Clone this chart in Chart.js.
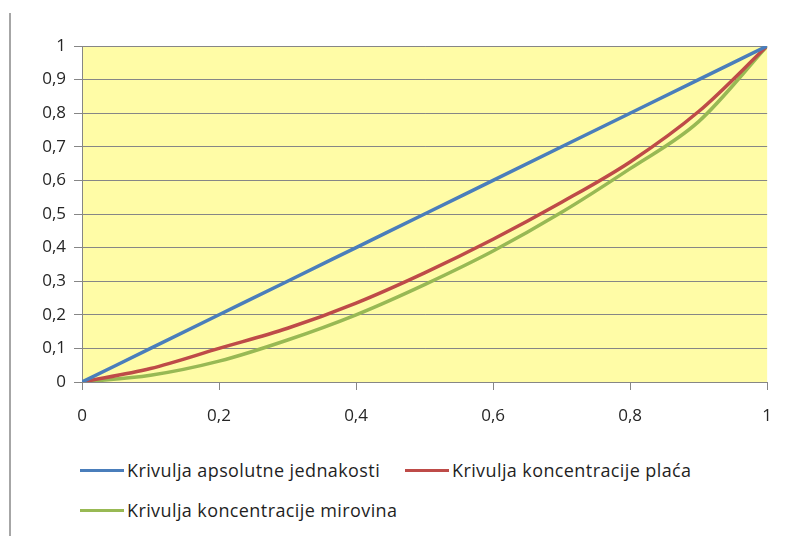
<!DOCTYPE html>
<html>
<head>
<meta charset="utf-8">
<title>Krivulje koncentracije</title>
<script src="https://cdn.jsdelivr.net/npm/chart.js@4/dist/chart.umd.min.js"></script>
<style>
    html, body { margin: 0; padding: 0; background: #ffffff; }
    #wrap { position: relative; width: 788px; height: 536px; overflow: hidden; }
    #lorenzChart { position: absolute; left: 0; top: 0; }
    .frame-line { position: absolute; left: 9px; top: 13px; width: 2px; height: 523px; background: #a6a6a6; }
    #legend {
        position: absolute; left: 80px; top: 459px;
        display: grid; grid-template-columns: 325px auto; row-gap: 18px;
        font-family: "Open Sans", sans-serif; font-size: 18px; letter-spacing: 0.4px; color: #1f1f1f;
    }
    .legend-item { display: flex; align-items: center; height: 22px; white-space: nowrap; }
    .legend-line { display: inline-block; width: 44px; height: 3px; margin-right: 3px; }
</style>
</head>
<body>
<div id="wrap">
    <div class="frame-line"></div>
    <canvas id="lorenzChart" width="788" height="445"></canvas>
    <div id="legend"></div>
</div>
<script>
// podaci očitani sa slike
const shareX = [0, 0.1, 0.2, 0.3, 0.4, 0.5, 0.6, 0.7, 0.8, 0.9, 1];
const jednakostY = [0, 0.1, 0.2, 0.3, 0.4, 0.5, 0.6, 0.7, 0.8, 0.9, 1];
const placeY = [0, 0.04, 0.10, 0.16, 0.235, 0.325, 0.425, 0.535, 0.655, 0.805, 1];
const mirovineY = [0, 0.02, 0.062, 0.125, 0.20, 0.29, 0.39, 0.505, 0.635, 0.775, 1];

const seriesNames = [
    "Krivulja apsolutne jednakosti",
    "Krivulja koncentracije plaća",
    "Krivulja koncentracije mirovina"
];
const seriesColors = ["#4a7ebb", "#be4b48", "#98b954"];

const xTickLabels = ["0", "0,2", "0,4", "0,6", "0,8", "1"];
const yTickLabels = ["0", "0,1", "0,2", "0,3", "0,4", "0,5", "0,6", "0,7", "0,8", "0,9", "1"];

function toPoints(ys) {
    return shareX.map((x, i) => ({ x: x, y: ys[i] }));
}

// žuta pozadina područja grafa
const plotBackground = {
    id: "plotBackground",
    beforeDraw(chart) {
        const { ctx, chartArea } = chart;
        ctx.save();
        ctx.fillStyle = "#fffca6";
        ctx.fillRect(chartArea.left, chartArea.top, chartArea.right - chartArea.left, chartArea.bottom - chartArea.top);
        ctx.restore();
    }
};

const axisFont = { family: "'Open Sans', sans-serif", size: 17 };
const gridColor = "#868686";

const chart = new Chart(document.getElementById("lorenzChart"), {
    type: "line",
    data: {
        datasets: [jednakostY, placeY, mirovineY].map((ys, i) => ({
            label: seriesNames[i],
            data: toPoints(ys),
            borderColor: seriesColors[i],
            backgroundColor: seriesColors[i],
            borderWidth: 3.5,
            pointRadius: 0,
            fill: false,
            cubicInterpolationMode: "monotone"
        }))
    },
    options: {
        responsive: false,
        animation: false,
        layout: { padding: { top: 46, right: 19, left: 0, bottom: 0 } },
        plugins: {
            legend: { display: false },
            tooltip: { enabled: false }
        },
        scales: {
            x: {
                type: "linear",
                min: 0,
                max: 1,
                ticks: {
                    stepSize: 0.2,
                    padding: 16,
                    color: "#262626",
                    font: axisFont,
                    maxRotation: 0,
                    callback: (value, index) => xTickLabels[index]
                },
                grid: { drawOnChartArea: false, drawTicks: true, tickLength: 8, color: gridColor },
                border: { display: true, color: gridColor },
                afterFit: scale => { scale.height = 63; }
            },
            y: {
                min: 0,
                max: 1,
                ticks: {
                    stepSize: 0.1,
                    padding: 8,
                    color: "#262626",
                    font: axisFont,
                    callback: (value, index) => yTickLabels[index]
                },
                grid: { color: gridColor, lineWidth: 1, tickLength: 8 },
                border: { display: true, color: gridColor },
                afterFit: scale => { scale.width = 82; }
            }
        }
    },
    plugins: [plotBackground]
});

// legenda ispod grafa
function describeLegend() {
    const legendElement = document.getElementById("legend");
    legendElement.innerHTML = chart.data.datasets.map(ds =>
        `<div class="legend-item"><span class="legend-line" style="background:${ds.borderColor}"></span>${ds.label}</div>`
    ).join("");
}
describeLegend();
</script>
</body>
</html>
